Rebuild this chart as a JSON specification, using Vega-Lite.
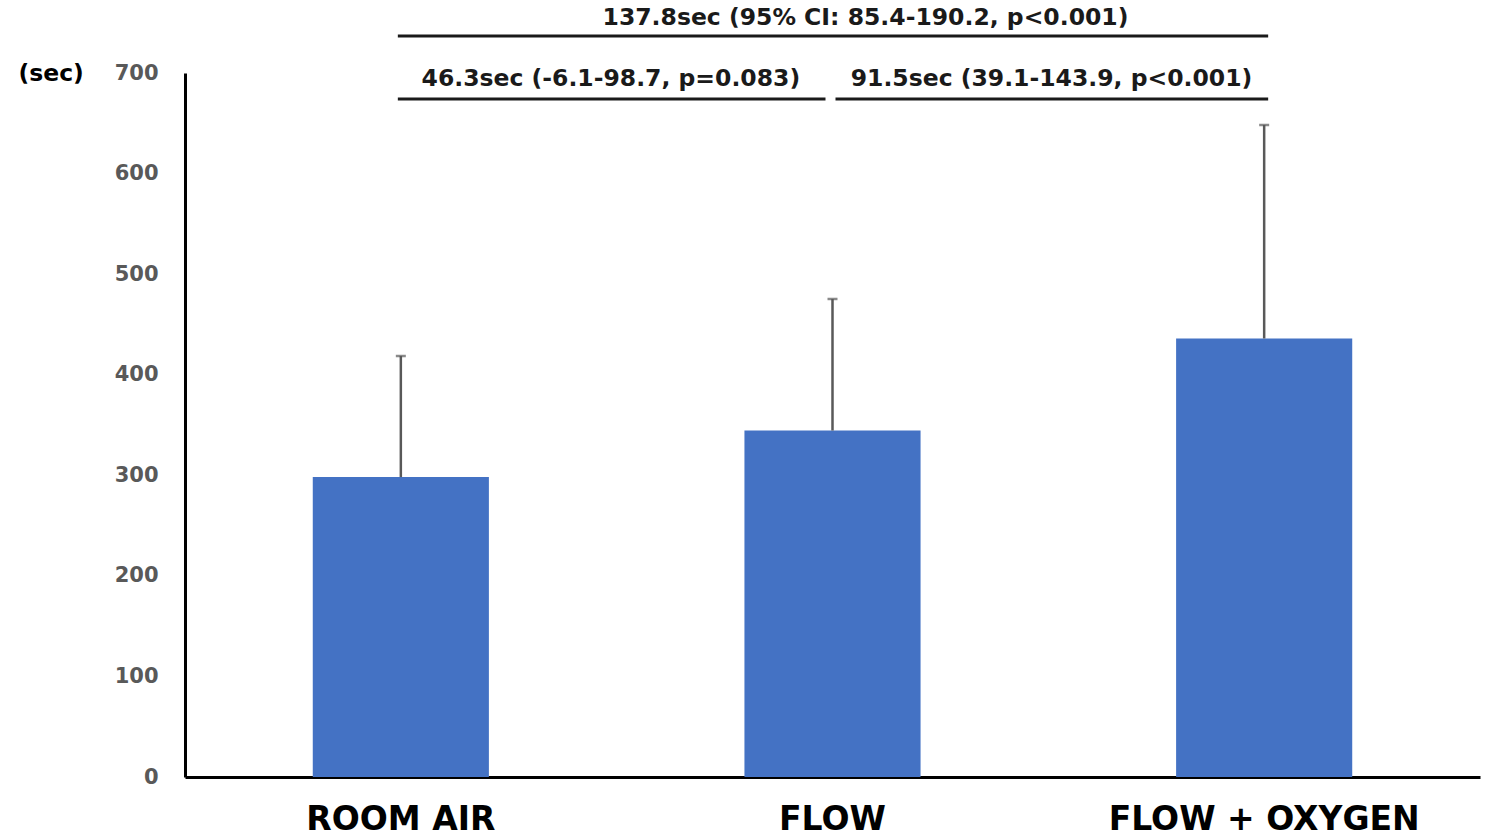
{
  "$schema": "https://vega.github.io/schema/vega-lite/v6.json",
  "autosize": "none",
  "width": 1295,
  "height": 704,
  "padding": {"left": 185, "top": 73, "right": 14, "bottom": 60},
  "background": "white",
  "config": {"view": {"stroke": null}, "font": "DejaVu Sans"},
  "datasets": {
    "groups": [
      {"group": "ROOM AIR", "mean": 298.2, "upper": 418.6},
      {"group": "FLOW", "mean": 344.5, "upper": 475.3},
      {"group": "FLOW + OXYGEN", "mean": 436.0, "upper": 648.3}
    ],
    "brackets": [
      {"id": "left", "from": "ROOM AIR", "to": "FLOW", "y": 674.1},
      {"id": "right", "from": "FLOW", "to": "FLOW + OXYGEN", "y": 674.1},
      {"id": "top", "from": "ROOM AIR", "to": "FLOW + OXYGEN", "y": 736.8}
    ],
    "labels": [
      {"id": "left", "at": "ROOM AIR", "y": 694, "text": "46.3sec (-6.1-98.7, p=0.083)"},
      {"id": "right", "at": "FLOW", "y": 694, "text": "91.5sec (39.1-143.9, p<0.001)"},
      {"id": "top", "at": "FLOW", "y": 754.5, "text": "137.8sec (95% CI: 85.4-190.2, p<0.001)"}
    ]
  },
  "encoding": {
    "x": {
      "field": "group",
      "type": "nominal",
      "sort": ["ROOM AIR", "FLOW", "FLOW + OXYGEN"],
      "scale": {"domain": ["ROOM AIR", "FLOW", "FLOW + OXYGEN"], "paddingInner": 0.592, "paddingOuter": 0.296},
      "axis": {
        "title": null,
        "domainColor": "black",
        "domainWidth": 3,
        "ticks": false,
        "labelAngle": 0,
        "labelLimit": 0,
        "labelFont": "DejaVu Sans",
        "labelFontWeight": "bold",
        "labelFontSize": 33,
        "labelColor": "black",
        "labelPadding": 26
      }
    }
  },
  "layer": [
    {
      "data": {"name": "groups"},
      "mark": {"type": "bar", "color": "#4472C4"},
      "encoding": {
        "y": {
          "field": "mean",
          "type": "quantitative",
          "scale": {"domain": [0, 700], "nice": false},
          "axis": {
            "title": "(sec)",
            "titleAngle": 0,
            "titleX": -167,
            "titleY": 0,
            "titleAlign": "left",
            "titleBaseline": "middle",
            "titleFont": "DejaVu Sans",
            "titleFontWeight": "bold",
            "titleFontSize": 23.5,
            "titleColor": "black",
            "values": [0, 100, 200, 300, 400, 500, 600, 700],
            "grid": false,
            "ticks": false,
            "domainColor": "black",
            "domainWidth": 3,
            "labelFont": "DejaVu Sans",
            "labelFontWeight": "bold",
            "labelFontSize": 21,
            "labelColor": "#595959",
            "labelPadding": 27
          }
        }
      }
    },
    {
      "data": {"name": "groups"},
      "mark": {"type": "rule", "color": "#595959", "strokeWidth": 2.5},
      "encoding": {
        "y": {"field": "mean", "type": "quantitative"},
        "y2": {"field": "upper"}
      }
    },
    {
      "data": {"name": "groups"},
      "mark": {"type": "tick", "color": "#595959", "size": 10, "thickness": 2.5, "orient": "horizontal"},
      "encoding": {
        "y": {"field": "upper", "type": "quantitative"}
      }
    },
    {
      "data": {"name": "brackets"},
      "transform": [{"filter": "datum.id === 'left'"}],
      "mark": {"type": "rule", "color": "#1a1a1a", "strokeWidth": 3, "clip": false, "xOffset": -3, "x2Offset": -7},
      "encoding": {
        "x": {"field": "from", "type": "nominal"},
        "x2": {"field": "to"},
        "y": {"field": "y", "type": "quantitative"}
      }
    },
    {
      "data": {"name": "brackets"},
      "transform": [{"filter": "datum.id === 'right'"}],
      "mark": {"type": "rule", "color": "#1a1a1a", "strokeWidth": 3, "clip": false, "xOffset": 3, "x2Offset": 4},
      "encoding": {
        "x": {"field": "from", "type": "nominal"},
        "x2": {"field": "to"},
        "y": {"field": "y", "type": "quantitative"}
      }
    },
    {
      "data": {"name": "brackets"},
      "transform": [{"filter": "datum.id === 'top'"}],
      "mark": {"type": "rule", "color": "#1a1a1a", "strokeWidth": 3, "clip": false, "xOffset": -3, "x2Offset": 4},
      "encoding": {
        "x": {"field": "from", "type": "nominal"},
        "x2": {"field": "to"},
        "y": {"field": "y", "type": "quantitative"}
      }
    },
    {
      "data": {"name": "labels"},
      "transform": [{"filter": "datum.id === 'left'"}],
      "mark": {"type": "text", "font": "DejaVu Sans", "fontWeight": "bold", "fontSize": 23.5, "color": "#1a1a1a", "baseline": "middle", "align": "center", "dx": 210},
      "encoding": {
        "x": {"field": "at", "type": "nominal"},
        "y": {"field": "y", "type": "quantitative"},
        "text": {"field": "text"}
      }
    },
    {
      "data": {"name": "labels"},
      "transform": [{"filter": "datum.id === 'right'"}],
      "mark": {"type": "text", "font": "DejaVu Sans", "fontWeight": "bold", "fontSize": 23.5, "color": "#1a1a1a", "baseline": "middle", "align": "center", "dx": 219},
      "encoding": {
        "x": {"field": "at", "type": "nominal"},
        "y": {"field": "y", "type": "quantitative"},
        "text": {"field": "text"}
      }
    },
    {
      "data": {"name": "labels"},
      "transform": [{"filter": "datum.id === 'top'"}],
      "mark": {"type": "text", "font": "DejaVu Sans", "fontWeight": "bold", "fontSize": 23.5, "color": "#1a1a1a", "baseline": "middle", "align": "center", "dx": 33},
      "encoding": {
        "x": {"field": "at", "type": "nominal"},
        "y": {"field": "y", "type": "quantitative"},
        "text": {"field": "text"}
      }
    }
  ]
}
